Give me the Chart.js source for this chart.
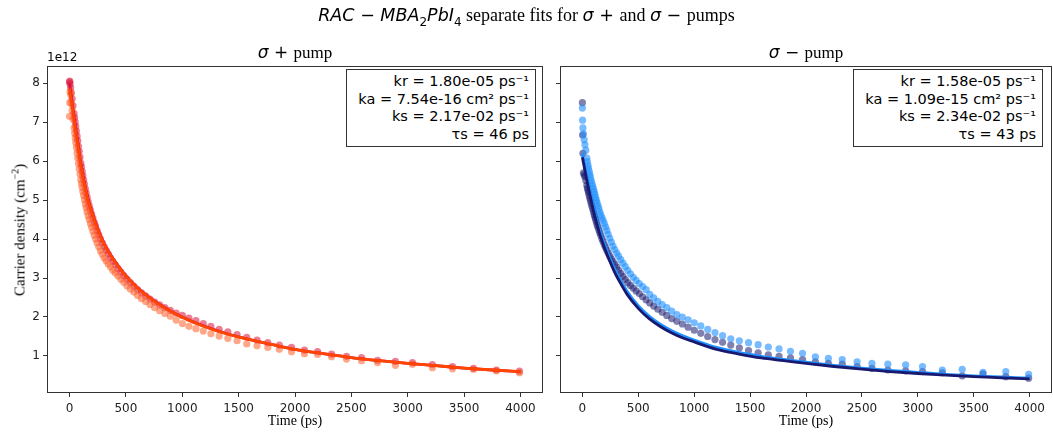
<!DOCTYPE html>
<html>
<head>
<meta charset="utf-8">
<script src="https://cdn.jsdelivr.net/npm/chart.js"></script>
<style>
  body { margin: 0; background: #fff; }
  #wrap { position: relative; width: 1053px; height: 437px; overflow: hidden; background: #fff; }
  canvas { position: absolute; top: 0; }
  .serif { font-family: "Liberation Serif", "DejaVu Serif", serif; }
  .math { font-family: "DejaVu Sans", sans-serif; font-style: italic; }
  .up { font-family: "DejaVu Sans", sans-serif; }
  .lbl { position: absolute; color: #000; white-space: nowrap; }
  .box { position: absolute; box-sizing: border-box; width: 190px; height: 78px; border: 1px solid #333; background: #fff;
         font-family: "DejaVu Sans", sans-serif; font-size: 14.5px; line-height: 17.5px; text-align: right;
         padding: 3px 6px 0 0; color: #000; }
</style>
</head>
<body>
<div id="wrap">
  <canvas id="plusChart" style="left:0px" width="549" height="437"></canvas>
  <canvas id="minusChart" style="left:549px" width="504" height="437"></canvas>

  <div class="lbl" style="left:0; width:1053px; top:5px; text-align:center; font-size:17.5px;">
    <span class="math">RAC</span><span class="up"> − </span><span class="math">MBA</span><sub class="up" style="font-size:12px">2</sub><span class="math">PbI</span><sub class="up" style="font-size:12px">4</sub><span class="serif" style="font-size:18px"> separate fits for </span><span class="math">σ</span><span class="up"> + </span><span class="serif" style="font-size:18px"> and </span><span class="math">σ</span><span class="up"> − </span><span class="serif" style="font-size:18px"> pumps</span>
  </div>

  <div class="lbl" style="left:47px; width:496px; top:42px; text-align:center; font-size:17px;">
    <span class="math">σ</span><span class="up"> + </span><span class="serif"> pump</span>
  </div>
  <div class="lbl" style="left:560px; width:492px; top:42px; text-align:center; font-size:17px;">
    <span class="math">σ</span><span class="up"> − </span><span class="serif"> pump</span>
  </div>

  <div class="lbl up" style="left:47px; top:50px; font-size:12px;">1e12</div>

  <div class="lbl serif" style="left:19px; top:230px; font-size:15px; transform: translate(-50%, -50%) rotate(-90deg);">Carrier density (cm<sup style="font-size:10px">−2</sup>)</div>

  <div class="lbl serif" style="left:47px; width:496px; top:413px; text-align:center; font-size:14px;">Time (ps)</div>
  <div class="lbl serif" style="left:560px; width:492px; top:413px; text-align:center; font-size:14px;">Time (ps)</div>

  <div class="box" style="left:346px; top:69px;">
    kr = 1.80e-05 ps⁻¹<br>ka = 7.54e-16 cm² ps⁻¹<br>ks = 2.17e-02 ps⁻¹<br>τs = 46 ps
  </div>
  <div class="box" style="left:853px; top:69px;">
    kr = 1.58e-05 ps⁻¹<br>ka = 1.09e-15 cm² ps⁻¹<br>ks = 2.34e-02 ps⁻¹<br>τs = 43 ps
  </div>
</div>

<script>
// measured delay times (ps)
const times = [0, 2, 5, 10, 16, 23, 31, 40, 45, 50,
    55, 61, 67, 73, 79, 86, 93, 100, 106, 112,
    118, 125, 132, 140, 148, 156, 165, 175, 185, 196,
    207, 219, 231, 245, 259, 274, 290, 307, 324, 343,
    363, 384, 406, 430, 455, 481, 509, 539, 570, 603,
    638, 675, 714, 755, 799, 845, 894, 946, 1001, 1059,
    1121, 1186, 1254, 1327, 1404, 1486, 1572, 1663, 1759, 1861,
    1969, 2084, 2200, 2324, 2457, 2590, 2732, 2891, 3042, 3219,
    3397, 3583, 3787, 3991];

// carrier density, units of 1e12 cm^-2
const plusCrimson = [8.03, 8.05, 7.98, 7.88, 7.75, 7.60, 7.42, 7.22, 7.11, 7.00,
    6.89, 6.77, 6.64, 6.52, 6.38, 6.25, 6.10, 5.95, 5.85, 5.74,
    5.63, 5.52, 5.41, 5.29, 5.18, 5.07, 4.96, 4.85, 4.75, 4.64,
    4.54, 4.43, 4.33, 4.21, 4.11, 4.00, 3.90, 3.80, 3.71, 3.62,
    3.52, 3.43, 3.34, 3.24, 3.15, 3.06, 2.97, 2.88, 2.79, 2.70,
    2.62, 2.54, 2.46, 2.38, 2.31, 2.24, 2.17, 2.10, 2.04, 1.97,
    1.91, 1.83, 1.76, 1.68, 1.62, 1.55, 1.48, 1.41, 1.34, 1.28,
    1.22, 1.15, 1.11, 1.05, 0.99, 0.96, 0.89, 0.86, 0.83, 0.78,
    0.73, 0.68, 0.64, 0.61];

const plusOrange = [7.15, 7.50, 7.78, 7.70, 7.50, 7.30, 7.08, 6.85, 6.72, 6.60,
    6.48, 6.35, 6.21, 6.08, 5.94, 5.80, 5.66, 5.52, 5.42, 5.32,
    5.22, 5.12, 5.01, 4.90, 4.80, 4.70, 4.60, 4.50, 4.40, 4.30,
    4.20, 4.10, 4.00, 3.90, 3.80, 3.70, 3.61, 3.52, 3.44, 3.36,
    3.28, 3.20, 3.13, 3.05, 2.97, 2.89, 2.80, 2.72, 2.64, 2.55,
    2.47, 2.40, 2.32, 2.24, 2.16, 2.09, 2.02, 1.92, 1.83, 1.76,
    1.70, 1.64, 1.57, 1.51, 1.45, 1.39, 1.31, 1.26, 1.22, 1.17,
    1.11, 1.06, 1.04, 0.98, 0.92, 0.88, 0.83, 0.76, 0.79, 0.70,
    0.67, 0.66, 0.62, 0.57];

const minusNavy = [7.50, 6.67, 6.20, 5.70, 5.65, 5.60, 5.50, 5.38, 5.31, 5.25,
    5.19, 5.12, 5.05, 4.98, 4.91, 4.84, 4.77, 4.70, 4.63, 4.57,
    4.51, 4.44, 4.37, 4.30, 4.23, 4.16, 4.09, 4.01, 3.94, 3.86,
    3.79, 3.71, 3.64, 3.56, 3.49, 3.42, 3.35, 3.28, 3.20, 3.12,
    3.04, 2.96, 2.88, 2.81, 2.74, 2.67, 2.60, 2.52, 2.44, 2.36,
    2.28, 2.20, 2.12, 2.04, 1.96, 1.89, 1.82, 1.74, 1.66, 1.58,
    1.50, 1.42, 1.35, 1.28, 1.21, 1.14, 1.08, 1.03, 0.99, 0.95,
    0.91, 0.85, 0.81, 0.79, 0.73, 0.68, 0.64, 0.62, 0.60, 0.57,
    0.49, 0.54, 0.47, 0.43];

const minusBlue = [7.36, 7.05, 6.85, 6.70, 6.55, 6.42, 6.28, 6.08, 5.99, 5.90,
    5.82, 5.74, 5.66, 5.58, 5.50, 5.42, 5.35, 5.28, 5.21, 5.14,
    5.07, 5.00, 4.93, 4.86, 4.78, 4.70, 4.62, 4.55, 4.48, 4.40,
    4.31, 4.22, 4.12, 4.02, 3.92, 3.82, 3.73, 3.64, 3.56, 3.47,
    3.38, 3.29, 3.20, 3.11, 3.02, 2.94, 2.86, 2.78, 2.70, 2.58,
    2.49, 2.40, 2.32, 2.24, 2.15, 2.06, 2.00, 1.93, 1.85, 1.77,
    1.68, 1.60, 1.52, 1.44, 1.39, 1.34, 1.29, 1.23, 1.18, 1.12,
    1.07, 0.98, 0.94, 0.91, 0.85, 0.81, 0.79, 0.77, 0.73, 0.64,
    0.66, 0.58, 0.60, 0.53];

// fitted curves
const fitTimes = [0, 10, 20, 30, 45, 60, 80, 100, 125, 150, 175, 200, 250, 300, 350, 400, 500, 600, 700, 800,
    900, 1000, 1200, 1400, 1600, 1800, 2000, 2250, 2500, 2750, 3000, 3250, 3500, 3750, 4000];
const fitPlusCrimson = [8.00, 7.78, 7.57, 7.36, 7.05, 6.75, 6.36, 5.95, 5.55, 5.20, 4.92, 4.68, 4.27, 3.93, 3.66, 3.44, 3.06, 2.76, 2.52, 2.32,
    2.15, 2.00, 1.76, 1.57, 1.42, 1.29, 1.17, 1.06, 0.96, 0.88, 0.81, 0.75, 0.69, 0.64, 0.60];
const fitPlusOrange = [7.86, 7.66, 7.46, 7.26, 6.96, 6.67, 6.29, 5.89, 5.50, 5.16, 4.88, 4.65, 4.24, 3.91, 3.64, 3.42, 3.05, 2.75, 2.51, 2.31,
    2.14, 1.99, 1.75, 1.56, 1.42, 1.29, 1.17, 1.06, 0.96, 0.88, 0.81, 0.75, 0.69, 0.64, 0.60];
const fitMinusNavy = [6.10, 5.95, 5.80, 5.65, 5.44, 5.23, 4.97, 4.72, 4.44, 4.18, 3.96, 3.76, 3.40, 3.08, 2.82, 2.58, 2.22, 1.95, 1.75, 1.59,
    1.46, 1.36, 1.17, 1.05, 0.95, 0.88, 0.81, 0.73, 0.66, 0.60, 0.55, 0.51, 0.47, 0.44, 0.41];
const fitMinusBlue = [6.20, 6.05, 5.90, 5.75, 5.54, 5.33, 5.07, 4.82, 4.54, 4.28, 4.06, 3.86, 3.49, 3.17, 2.90, 2.66, 2.29, 2.02, 1.81, 1.65,
    1.52, 1.41, 1.22, 1.09, 0.99, 0.91, 0.84, 0.76, 0.69, 0.63, 0.58, 0.53, 0.49, 0.46, 0.43];

const xTicks = [0, 500, 1000, 1500, 2000, 2500, 3000, 3500, 4000];
const yTicks = [1, 2, 3, 4, 5, 6, 7, 8];

const pts = (xs, ys) => xs.map((x, i) => ({ x: x, y: ys[i] }));

const framePlugin = {
    id: "frame",
    afterDraw(chart) {
        const a = chart.chartArea, ctx = chart.ctx;
        ctx.save();
        ctx.strokeStyle = "#333";
        ctx.lineWidth = 1;
        ctx.strokeRect(Math.round(a.left) + 0.5, Math.round(a.top) + 0.5,
            Math.round(a.right - a.left) - 1, Math.round(a.bottom - a.top) - 1);
        ctx.restore();
    }
};

function scatterSet(data, color, order) {
    return { type: "scatter", data: data, backgroundColor: color, borderWidth: 0,
             pointRadius: 3.6, pointHoverRadius: 3.6, order: order };
}
function fitSet(data, color, order) {
    return { type: "line", data: data, borderColor: color, borderWidth: 2.8, pointRadius: 0,
             fill: false, cubicInterpolationMode: "monotone", order: order };
}

function makeChart(id, datasets, showYLabels, yWidth, padRight) {
    return new Chart(document.getElementById(id), {
        type: "scatter",
        data: { datasets: datasets },
        options: {
            responsive: false,
            animation: false,
            events: [],
            layout: { padding: { top: 66, right: padRight, left: 0, bottom: 0 }, autoPadding: false },
            plugins: { legend: { display: false }, tooltip: { enabled: false }, title: { display: false } },
            scales: {
                x: {
                    type: "linear", min: -200, max: 4200,
                    afterBuildTicks: s => { s.ticks = xTicks.map(v => ({ value: v })); },
                    afterFit: s => { s.height = 44; },
                    ticks: { font: { family: "DejaVu Sans", size: 12 }, color: "#222", padding: 5, maxRotation: 0,
                             autoSkip: false, callback: v => String(v) },
                    grid: { drawOnChartArea: false, drawTicks: true, tickLength: 4, color: "#333" },
                    border: { display: false }
                },
                y: {
                    type: "linear", min: 0.05, max: 8.44,
                    afterBuildTicks: s => { s.ticks = yTicks.map(v => ({ value: v })); },
                    afterFit: s => { s.width = yWidth; },
                    ticks: { display: showYLabels, font: { family: "DejaVu Sans", size: 12 }, color: "#222", padding: 3,
                             callback: v => String(v) },
                    grid: { drawOnChartArea: false, drawTicks: true, tickLength: 4, color: "#333" },
                    border: { display: false }
                }
            }
        },
        plugins: [framePlugin]
    });
}

makeChart("plusChart", [
    scatterSet(pts(times, plusCrimson), "rgba(220,20,60,0.55)", 4),
    scatterSet(pts(times, plusOrange), "rgba(255,95,40,0.55)", 3),
    fitSet(pts(fitTimes, fitPlusCrimson), "#DC143C", 2),
    fitSet(pts(fitTimes, fitPlusOrange), "#FF4500", 1)
], true, 47, 6);

makeChart("minusChart", [
    scatterSet(pts(times, minusNavy), "rgba(25,25,112,0.55)", 4),
    scatterSet(pts(times, minusBlue), "rgba(30,144,255,0.6)", 3),
    fitSet(pts(fitTimes, fitMinusBlue), "#1E90FF", 2),
    fitSet(pts(fitTimes, fitMinusNavy), "#191970", 1)
], false, 11, 1);
</script>
</body>
</html>
